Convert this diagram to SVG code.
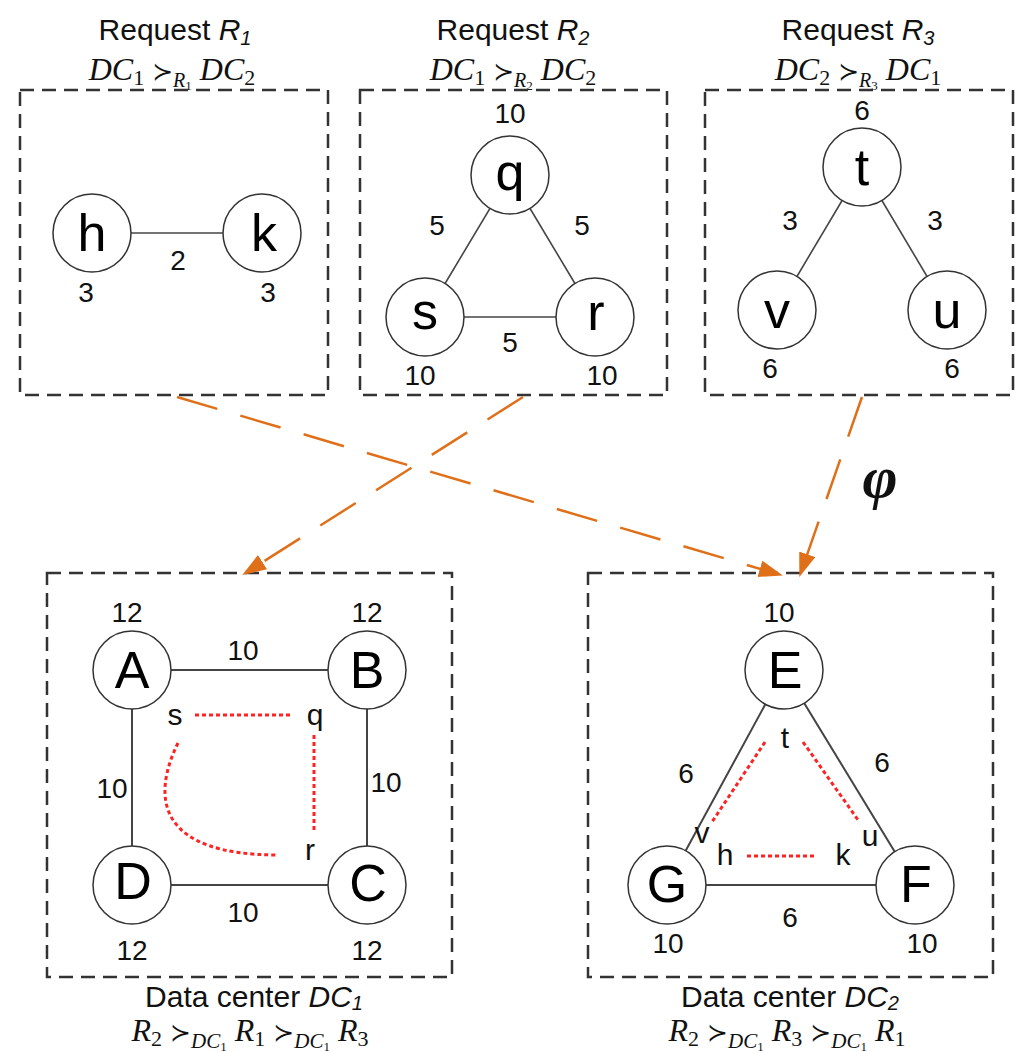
<svg xmlns="http://www.w3.org/2000/svg" width="1019" height="1052" viewBox="0 0 1019 1052">
<style>
.bg{fill:#fff}
.box{fill:none;stroke:#333;stroke-width:2.5;stroke-dasharray:14 8}
.nc{fill:#fff;stroke:#333;stroke-width:1.5}
.lbl{font-family:"Liberation Sans",Arial,sans-serif;font-size:52px;text-anchor:middle;fill:#000}
.num{font-family:"Liberation Sans",Arial,sans-serif;font-size:28px;text-anchor:middle;fill:#111}
.sm{font-family:"Liberation Sans",Arial,sans-serif;font-size:30px;text-anchor:middle;fill:#111}
.edge{stroke:#444;stroke-width:1.6}
.edge2{stroke:#444;stroke-width:2}
.map{fill:none;stroke:#f22;stroke-width:3;stroke-dasharray:4 3}
.arrow{fill:none;stroke:#DF7019;stroke-width:2.5;stroke-dasharray:42 24}
.title{font-family:"Liberation Sans",Arial,sans-serif;font-size:30px;text-anchor:middle;fill:#111}
.math{font-family:"Liberation Serif","DejaVu Serif","DejaVu Sans",serif;font-size:32px;text-anchor:middle;fill:#111}
.it{font-style:italic}
.succ{font-family:"DejaVu Serif","DejaVu Sans",serif;font-size:25px;font-weight:normal}
</style>
<defs>
<marker id="ah" markerUnits="userSpaceOnUse" markerWidth="26" markerHeight="18" refX="12" refY="8.5" orient="auto">
<path d="M0,0 L24,8.5 L0,17 z" fill="#DF7019"/>
</marker>
</defs>
<rect class="bg" x="0" y="0" width="1019" height="1052"/>

<!-- titles -->
<g id="title-r1">
<text class="title" x="175" y="40">Request <tspan class="it">R</tspan><tspan class="it" font-size="20" dy="5">1</tspan></text>
<text class="math" x="172" y="80"><tspan class="it">DC</tspan><tspan font-size="22" dy="5">1</tspan><tspan dy="-5"> </tspan><tspan class="succ">≻</tspan><tspan class="it" font-size="20" dy="7">R</tspan><tspan font-size="13" dy="3">1</tspan><tspan dy="-10"> </tspan><tspan class="it">DC</tspan><tspan font-size="22" dy="5">2</tspan></text>
</g>
<g id="title-r2">
<text class="title" x="513" y="40">Request <tspan class="it">R</tspan><tspan class="it" font-size="20" dy="5">2</tspan></text>
<text class="math" x="513" y="80"><tspan class="it">DC</tspan><tspan font-size="22" dy="5">1</tspan><tspan dy="-5"> </tspan><tspan class="succ">≻</tspan><tspan class="it" font-size="20" dy="7">R</tspan><tspan font-size="13" dy="3">2</tspan><tspan dy="-10"> </tspan><tspan class="it">DC</tspan><tspan font-size="22" dy="5">2</tspan></text>
</g>
<g id="title-r3">
<text class="title" x="858" y="40">Request <tspan class="it">R</tspan><tspan class="it" font-size="20" dy="5">3</tspan></text>
<text class="math" x="858" y="80"><tspan class="it">DC</tspan><tspan font-size="22" dy="5">2</tspan><tspan dy="-5"> </tspan><tspan class="succ">≻</tspan><tspan class="it" font-size="20" dy="7">R</tspan><tspan font-size="13" dy="3">3</tspan><tspan dy="-10"> </tspan><tspan class="it">DC</tspan><tspan font-size="22" dy="5">1</tspan></text>
</g>
<g id="title-dc1">
<text class="title" x="254" y="1007">Data center <tspan class="it">DC</tspan><tspan class="it" font-size="20" dy="3">1</tspan></text>
<text class="math" x="250" y="1041"><tspan class="it">R</tspan><tspan font-size="22" dy="5">2</tspan><tspan dy="-5"> </tspan><tspan class="succ">≻</tspan><tspan class="it" font-size="21" dy="7">DC</tspan><tspan font-size="13" dy="3">1</tspan><tspan dy="-10">  </tspan><tspan class="it">R</tspan><tspan font-size="22" dy="5">1</tspan><tspan dy="-5"> </tspan><tspan class="succ">≻</tspan><tspan class="it" font-size="21" dy="7">DC</tspan><tspan font-size="13" dy="3">1</tspan><tspan dy="-10">  </tspan><tspan class="it">R</tspan><tspan font-size="22" dy="5">3</tspan></text>
</g>
<g id="title-dc2">
<text class="title" x="790" y="1007">Data center <tspan class="it">DC</tspan><tspan class="it" font-size="20" dy="3">2</tspan></text>
<text class="math" x="787" y="1041"><tspan class="it">R</tspan><tspan font-size="22" dy="5">2</tspan><tspan dy="-5"> </tspan><tspan class="succ">≻</tspan><tspan class="it" font-size="21" dy="7">DC</tspan><tspan font-size="13" dy="3">1</tspan><tspan dy="-10">  </tspan><tspan class="it">R</tspan><tspan font-size="22" dy="5">3</tspan><tspan dy="-5"> </tspan><tspan class="succ">≻</tspan><tspan class="it" font-size="21" dy="7">DC</tspan><tspan font-size="13" dy="3">1</tspan><tspan dy="-10">  </tspan><tspan class="it">R</tspan><tspan font-size="22" dy="5">1</tspan></text>
</g>

<!-- boxes -->
<g id="box-r1"><rect class="box" x="20" y="90" width="308" height="305"/></g>
<g id="box-r2"><rect class="box" x="360" y="90" width="307" height="305"/></g>
<g id="box-r3"><rect class="box" x="705" y="90" width="308" height="305"/></g>
<g id="box-dc1"><rect class="box" x="47" y="573" width="405" height="404"/></g>
<g id="box-dc2"><rect class="box" x="588" y="573" width="405" height="404"/></g>

<!-- connectors -->
<g id="connectors">
<line class="edge" x1="92" y1="233" x2="262" y2="233"/>
<line class="edge" x1="510" y1="175" x2="425" y2="317"/>
<line class="edge" x1="510" y1="175" x2="595" y2="317"/>
<line class="edge" x1="425" y1="317" x2="595" y2="317"/>
<line class="edge" x1="862" y1="167" x2="777" y2="310"/>
<line class="edge" x1="862" y1="167" x2="947" y2="310"/>
<line class="edge2" x1="132" y1="670" x2="367" y2="670"/>
<line class="edge2" x1="367" y1="670" x2="367" y2="885"/>
<line class="edge2" x1="132" y1="885" x2="367" y2="885"/>
<line class="edge2" x1="132" y1="670" x2="132" y2="885"/>
<line class="edge2" x1="784" y1="670" x2="667" y2="885"/>
<line class="edge2" x1="784" y1="670" x2="915" y2="885"/>
<line class="edge2" x1="667" y1="885" x2="915" y2="885"/>
<path class="map" d="M195,715 L292,715"/>
<path class="map" d="M314,735 L314,832"/>
<path class="map" d="M178,743 C150,800 160,855 278,855"/>
<path class="map" d="M765,742 L712,822"/>
<path class="map" d="M803,742 L858,820"/>
<path class="map" d="M747,856 L817,856"/>
<line class="arrow" x1="177" y1="397" x2="771.4" y2="572.2" marker-end="url(#ah)"/>
<line class="arrow" x1="523" y1="397" x2="252.4" y2="568.6" marker-end="url(#ah)"/>
<line class="arrow" x1="862" y1="397" x2="803.3" y2="565.6" marker-end="url(#ah)"/>
</g>

<text x="880" y="497" font-family="Liberation Serif,DejaVu Serif,serif" font-style="italic" font-weight="bold" font-size="60" text-anchor="middle" fill="#111">φ</text>

<!-- edge labels -->
<g id="edge-labels">
<text class="num" x="178" y="270">2</text>
<text class="num" x="437" y="235">5</text>
<text class="num" x="582" y="235">5</text>
<text class="num" x="510" y="352">5</text>
<text class="num" x="790" y="230">3</text>
<text class="num" x="935" y="230">3</text>
<text class="num" x="243" y="660">10</text>
<text class="num" x="112" y="798">10</text>
<text class="num" x="386" y="792">10</text>
<text class="num" x="243" y="922">10</text>
<text class="num" x="686" y="783">6</text>
<text class="num" x="882" y="772">6</text>
<text class="num" x="790" y="927">6</text>
</g>

<!-- nodes -->
<g id="node-h"><circle class="nc" cx="92" cy="233" r="39"/><text class="lbl" x="92" y="251">h</text><text class="num" x="86" y="302">3</text></g>
<g id="node-k"><circle class="nc" cx="262" cy="233" r="39"/><text class="lbl" x="264" y="251">k</text><text class="num" x="268" y="302">3</text></g>
<g id="node-q"><circle class="nc" cx="510" cy="175" r="39"/><text class="lbl" x="510" y="190">q</text><text class="num" x="510" y="123">10</text></g>
<g id="node-s"><circle class="nc" cx="425" cy="317" r="39"/><text class="lbl" x="425" y="329">s</text><text class="num" x="420" y="385">10</text></g>
<g id="node-r"><circle class="nc" cx="595" cy="317" r="39"/><text class="lbl" x="596" y="330">r</text><text class="num" x="602" y="385">10</text></g>
<g id="node-t"><circle class="nc" cx="862" cy="167" r="39"/><text class="lbl" x="862" y="185">t</text><text class="num" x="862" y="120">6</text></g>
<g id="node-v"><circle class="nc" cx="777" cy="310" r="39"/><text class="lbl" x="777" y="328">v</text><text class="num" x="770" y="378">6</text></g>
<g id="node-u"><circle class="nc" cx="947" cy="310" r="39"/><text class="lbl" x="947" y="328">u</text><text class="num" x="952" y="378">6</text></g>

<g id="node-A"><circle class="nc" cx="132" cy="670" r="39"/><text class="lbl" x="132" y="688">A</text><text class="num" x="127" y="622">12</text></g>
<g id="node-B"><circle class="nc" cx="367" cy="670" r="39"/><text class="lbl" x="367" y="688">B</text><text class="num" x="367" y="622">12</text></g>
<g id="node-C"><circle class="nc" cx="367" cy="885" r="39"/><text class="lbl" x="368" y="901">C</text><text class="num" x="367" y="960">12</text></g>
<g id="node-D"><circle class="nc" cx="132" cy="885" r="39"/><text class="lbl" x="133" y="899">D</text><text class="num" x="132" y="960">12</text></g>
<g id="dc1-map-labels">
<text class="sm" x="175" y="725">s</text>
<text class="sm" x="315" y="725">q</text>
<text class="sm" x="310" y="860">r</text>
</g>

<g id="node-E"><circle class="nc" cx="784" cy="670" r="39"/><text class="lbl" x="785" y="688">E</text><text class="num" x="779" y="622">10</text></g>
<g id="node-G"><circle class="nc" cx="667" cy="885" r="39"/><text class="lbl" x="667" y="902">G</text><text class="num" x="668" y="953">10</text></g>
<g id="node-F"><circle class="nc" cx="915" cy="885" r="39"/><text class="lbl" x="916" y="902">F</text><text class="num" x="922" y="953">10</text></g>
<g id="dc2-map-labels">
<text class="sm" x="785" y="748">t</text>
<text class="sm" x="702" y="843">v</text>
<text class="sm" x="870" y="846">u</text>
<text class="sm" x="725" y="865">h</text>
<text class="sm" x="843" y="865">k</text>
</g>
</svg>
